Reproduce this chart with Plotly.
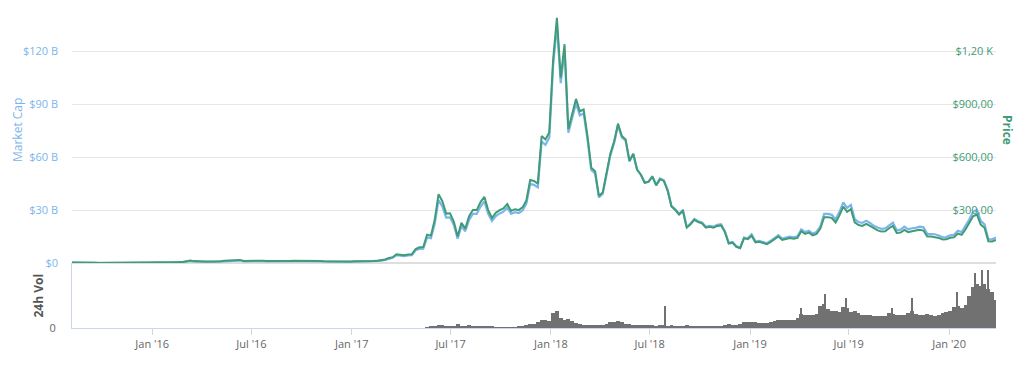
import pandas as pd
import plotly.graph_objects as go

# ---------------- data (weekly samples) ----------------
price_2015 = [2.8, 1.8, 1.4, 1.2, 1.3, 0.95, 0.9, 0.6, 0.68, 0.62, 0.5, 0.62, 1.0, 0.95, 0.9, 0.95, 0.87, 0.83, 0.9, 0.88, 0.87]
price_2016 = [0.95, 1.0, 1.25, 2.1, 2.3, 3.0, 5.2, 5.0, 6.3, 10.5, 14.5, 10.7, 11.1, 11.5, 8.6, 8.0, 7.5, 8.8, 9.5, 12.4,
              13.7, 12.8, 13.9, 17.6, 12.0, 12.8, 11.5, 10.8, 11.3, 12.5, 10.9, 10.5, 11.0, 11.2, 11.2, 11.9, 12.0, 12.9, 13.1, 13.2,
              11.8, 12.0, 11.4, 10.9, 10.9, 10.0, 9.6, 8.2, 7.7, 8.2, 7.8, 7.2, 8.0]
price_2017 = [10.3, 9.9, 10.8, 10.6, 11.3, 11.4, 12.7, 15.7, 19.6, 28.5, 33.0, 50.0, 45.0, 43.7, 48.3, 49.0, 79.5, 89.0, 90.0, 160,
              155, 245, 390, 350, 280, 282, 235, 150, 228, 195, 265, 300, 300, 345, 375, 300, 255, 285, 300, 310,
              335, 295, 305, 300, 315, 355, 470, 465, 450, 720, 700, 740]
price_2018 = [1150, 1390, 1050, 1240, 760, 850, 930, 860, 870, 720, 540, 520, 380, 400, 510, 620, 690, 790, 720, 700,
              580, 620, 530, 500, 455, 460, 490, 440, 475, 465, 410, 320, 300, 275, 295, 200, 220, 245, 232, 225,
              200, 205, 200, 210, 213, 175, 110, 115, 92, 84, 140, 135]
price_2019 = [155, 117, 120, 115, 107, 120, 133, 150, 131, 137, 141, 137, 142, 180, 165, 172, 157, 165, 195, 260,
              260, 255, 230, 270, 320, 290, 305, 230, 215, 210, 222, 210, 195, 185, 178, 180, 197, 210, 170, 173,
              188, 175, 180, 182, 188, 184, 150, 150, 148, 142, 133, 134]
price_2020 = [143, 146, 167, 160, 190, 225, 265, 275, 218, 200, 123, 122, 131]

cap_2015 = [0.20, 0.13, 0.10, 0.09, 0.09, 0.07, 0.07, 0.04, 0.05, 0.05, 0.04, 0.05, 0.07, 0.07, 0.07, 0.07, 0.06, 0.06, 0.07, 0.06, 0.06]
cap_2016 = [0.07, 0.08, 0.10, 0.16, 0.18, 0.23, 0.40, 0.39, 0.49, 0.82, 1.13, 0.83, 0.87, 0.90, 0.68, 0.63, 0.59, 0.70, 0.76, 0.99,
            1.10, 1.03, 1.12, 1.42, 0.97, 1.04, 0.93, 0.88, 0.92, 1.02, 0.89, 0.86, 0.91, 0.93, 0.93, 0.99, 1.00, 1.07, 1.09, 1.10,
            0.99, 1.01, 0.96, 0.92, 0.93, 0.85, 0.82, 0.70, 0.66, 0.71, 0.67, 0.62, 0.69]
cap_2017 = [0.90, 0.86, 0.94, 0.93, 0.99, 1.00, 1.12, 1.39, 1.74, 2.54, 2.94, 4.47, 4.04, 3.93, 4.35, 4.42, 7.19, 8.06, 8.16, 14.5,
            14.1, 22.3, 35.6, 32.0, 25.7, 25.9, 21.6, 13.8, 21.0, 18.0, 24.5, 27.8, 27.8, 32.0, 34.9, 27.9, 23.8, 26.6, 28.1, 29.1,
            31.5, 27.8, 28.8, 28.3, 29.8, 33.7, 44.7, 44.3, 42.9, 68.8, 67.0, 71.0]
cap_2018 = [111.6, 134.9, 101.9, 120.4, 73.8, 82.6, 90.4, 83.7, 84.8, 70.2, 52.8, 50.8, 37.2, 39.3, 50.1, 61.0, 68.0, 78.0, 71.2, 69.3,
            57.5, 61.6, 52.8, 49.9, 45.5, 46.1, 49.2, 44.3, 47.9, 46.9, 41.5, 32.4, 30.4, 27.9, 30.0, 20.4, 22.4, 25.0, 23.7, 23.0,
            20.5, 21.0, 20.6, 21.6, 22.0, 18.1, 11.4, 11.9, 9.5, 8.7, 14.5, 14.0]
cap_2019 = [16.2, 12.2, 12.6, 12.0, 11.2, 12.6, 14.0, 15.8, 13.8, 14.5, 14.9, 14.5, 15.1, 19.1, 17.5, 18.3, 16.7, 17.6, 20.8, 27.8,
            27.8, 27.3, 24.7, 29.0, 34.4, 31.2, 32.9, 24.8, 23.2, 22.7, 24.0, 22.7, 21.1, 20.1, 19.3, 19.6, 21.4, 22.9, 18.5, 18.9,
            20.6, 19.1, 19.7, 19.9, 20.6, 20.2, 16.5, 16.5, 16.3, 15.6, 14.6, 14.7]
cap_2020 = [15.7, 16.0, 18.3, 17.5, 20.8, 24.6, 29.0, 30.1, 23.9, 21.9, 13.5, 13.4, 14.4]

vol_2017 = [0.4, 0.6, 0.7, 1.3, 1.1, 0.8, 0.7, 0.8, 1.9, 1.0, 0.7, 1.3, 0.9, 0.8, 0.9, 0.9, 0.8, 0.6, 0.05, 0.05,
            0.05, 0.3, 0.3, 0.4, 0.5, 0.8, 1.3, 1.8, 1.6, 2.5, 3.3, 3.4, 3.0]
vol_2018 = [6.5, 7.5, 4.5, 3.5, 4.0, 3.0, 2.2, 1.6, 1.4, 1.4, 1.5, 1.2, 1.2, 1.1, 1.6, 2.6, 2.8, 2.9, 2.4, 1.8,
            1.6, 1.5, 1.4, 1.3, 1.5, 1.3, 1.1, 1.0, 1.2, 1.1, 1.0, 1.2, 0.9, 0.9, 0.8, 1.2, 1.0, 0.9, 0.8, 0.8,
            0.7, 0.7, 0.7, 0.8, 0.8, 1.2, 1.6, 1.4, 1.3, 1.6, 2.6, 2.4]
vol_2019 = [2.4, 2.6, 2.2, 2.1, 2.1, 2.4, 3.2, 3.6, 3.3, 3.4, 3.5, 3.6, 4.2, 6.0, 5.4, 5.5, 5.8, 6.0, 9.5, 10.5,
            8.0, 7.5, 7.2, 7.0, 9.0, 8.5, 7.0, 7.5, 6.5, 5.5, 5.5, 5.6, 5.0, 5.0, 5.0, 5.2, 6.5, 6.0, 5.5, 5.5,
            5.6, 6.5, 7.5, 6.0, 5.7, 5.4, 6.2, 5.5, 5.2, 5.5, 6.5, 7.0]
vol_2020 = [7.5, 9.0, 9.5, 8.5, 10.0, 14.0, 17.5, 19.0, 18.0, 19.0, 17.0, 15.5, 12.0]

spike_dates = ["2018-07-29", "2019-04-04", "2019-05-18", "2019-06-27", "2019-09-18",
               "2019-10-26", "2020-01-16", "2020-02-17", "2020-03-01", "2020-03-13"]
spike_vols = [9.6, 8.6, 14.8, 13.0, 8.6, 13.0, 15.3, 23.5, 24.8, 25.0]

price = price_2015 + price_2016 + price_2017 + price_2018 + price_2019 + price_2020
market_cap = cap_2015 + cap_2016 + cap_2017 + cap_2018 + cap_2019 + cap_2020
volume = vol_2017 + vol_2018 + vol_2019 + vol_2020

price_dates = pd.date_range("2015-08-07", periods=len(price), freq="7D")
vol_dates = pd.date_range("2017-05-19", periods=len(volume), freq="7D")

cap_ticks = [0, 30, 60, 90, 120]
cap_labels = ["$0", "$30 B", "$60 B", "$90 B", "$120 B"]
price_ticks = [0, 300, 600, 900, 1200]
price_labels = ["$0", "$300,00", "$600,00", "$900,00", "$1,20 K"]

# ---------------- styling ----------------
BLUE = "#7cb5ec"
GREEN = "#3f9c76"
GRAY_BAR = "#717171"
AXIS = "#ccd6eb"
FONT = "Open Sans"
DAY = 86400000
x_range = ["2015-08-07", "2020-03-27"]

fig = go.Figure()
fig.add_trace(go.Scatter(x=price_dates, y=market_cap, mode="lines", name="Market Cap",
                         line=dict(color=BLUE, width=2.2), xaxis="x", yaxis="y"))
fig.add_trace(go.Scatter(x=price_dates, y=price, mode="lines", name="Price",
                         line=dict(color=GREEN, width=2), xaxis="x", yaxis="y2"))
fig.add_trace(go.Bar(x=vol_dates, y=volume, width=7 * DAY, name="24h Vol",
                     marker=dict(color=GRAY_BAR, line=dict(width=0)), xaxis="x2", yaxis="y3"))
fig.add_trace(go.Bar(x=pd.to_datetime(spike_dates), y=spike_vols, width=2.5 * DAY, name="24h Vol spikes",
                     marker=dict(color=GRAY_BAR, line=dict(width=0)), xaxis="x2", yaxis="y3"))

# page body has an 8px margin, so the figure is drawn 8px in from the top-left corner
PLOT_H = 312
main_bottom = (328 - 263) / PLOT_H

fig.update_layout(
    width=1008, height=352,
    margin=dict(l=64, r=20, t=8, b=32),
    paper_bgcolor="white", plot_bgcolor="white",
    showlegend=False, barmode="overlay", bargap=0,
    font=dict(family=FONT, size=11, color="#666666"),
    xaxis=dict(domain=[0, 1], anchor="y", range=x_range, type="date", matches="x2",
               showticklabels=False, showgrid=False, showline=False, zeroline=False, ticks=""),
    yaxis=dict(domain=[main_bottom, 1], range=[0, 140], tickvals=cap_ticks, ticktext=cap_labels,
               tickfont=dict(color=BLUE, size=11, family=FONT), showgrid=True, gridcolor="#e6e6e6",
               gridwidth=1, zeroline=True, zerolinecolor="#dedede", zerolinewidth=2,
               showline=False, ticks="", ticklabelstandoff=13),
    yaxis2=dict(overlaying="y", side="right", anchor="x", range=[0, 1400], tickvals=price_ticks,
                ticktext=price_labels, tickfont=dict(color=GREEN, size=11, family=FONT),
                ticklabelposition="inside", showgrid=False, zeroline=False, showline=False, ticks=""),
    xaxis2=dict(domain=[0, 1], anchor="y3", range=x_range, type="date", tick0="2016-01-01",
                dtick="M6", tickformat="%b '%y", showgrid=False, showline=True, linecolor=AXIS,
                linewidth=1, ticks="outside", ticklen=6, tickcolor=AXIS, tickwidth=1,
                tickfont=dict(color="#666666", size=11, family=FONT), zeroline=False),
    yaxis3=dict(domain=[0, main_bottom], anchor="x2", range=[0, 28], tickvals=[0], ticktext=["0"],
                tickfont=dict(color="#666666", size=11, family=FONT), showgrid=False,
                zeroline=False, showline=True, linecolor=AXIS, linewidth=1, ticks="",
                ticklabelstandoff=13),
    annotations=[
        dict(text="Market Cap", xref="paper", yref="paper", x=-55 / 924, y=198 / PLOT_H,
             xanchor="center", yanchor="middle", textangle=-90, showarrow=False, borderpad=0,
             font=dict(color=BLUE, size=12, family=FONT)),
        dict(text="<b>24h Vol</b>", xref="paper", yref="paper", x=-34.5 / 924, y=32 / PLOT_H,
             xanchor="center", yanchor="middle", textangle=-90, showarrow=False,
             font=dict(color="#555555", size=12, family=FONT)),
        dict(text="<b>Price</b>", xref="paper", yref="paper", x=936 / 924, y=198 / PLOT_H,
             xanchor="center", yanchor="middle", textangle=90, showarrow=False,
             font=dict(color=GREEN, size=12, family=FONT)),
    ],
)

fig.write_html("out.html")
